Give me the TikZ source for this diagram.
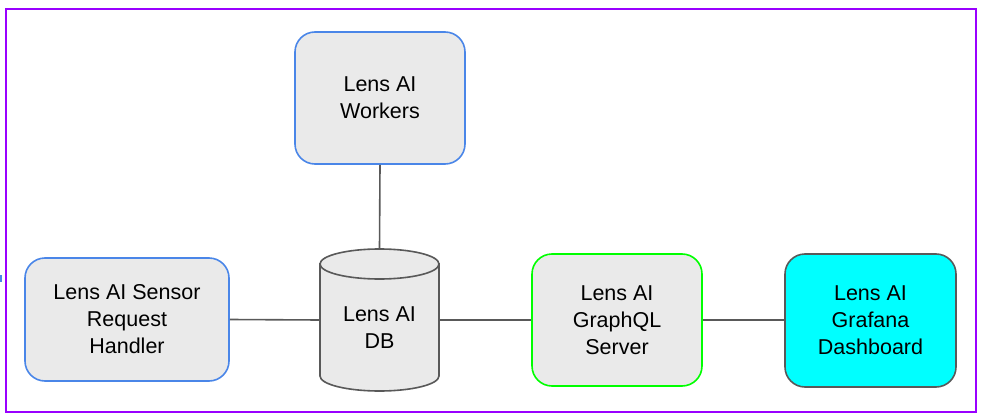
\documentclass[tikz,border=0pt]{standalone}
\usepackage{fontspec}
\setmainfont{Liberation Sans}
\definecolor{framepurple}{HTML}{9900FF}
\definecolor{gblue}{HTML}{4A86E8}
\definecolor{boxgray}{HTML}{EAEAEA}
\definecolor{edgegray}{HTML}{595959}
\definecolor{ggreen}{HTML}{00FF00}
\definecolor{gcyan}{HTML}{00FFFF}
\begin{document}
\begin{tikzpicture}[x=1pt,y=-1pt,
  box/.style={draw, line width=1.6pt, rounded corners=20pt, align=center,
    font=\fontsize{21.5}{27}\selectfont, inner sep=0pt},
  plain/.style={align=center, font=\fontsize{21.5}{27}\selectfont, inner sep=0pt},
  link/.style={draw=edgegray, line width=1.6pt},
  cyl/.style={draw=edgegray, fill=boxgray, line width=1.6pt}]
\useasboundingbox (0,0) rectangle (988,420);
\draw[framepurple, line width=2pt] (6,9) rectangle (976,412);
\fill[gblue] (0,275) rectangle (1.5,282);

% cylinder (database)
\path[cyl] (320,264) -- (320,376) arc[start angle=180, end angle=360, x radius=59.5pt, y radius=15pt] -- (439,264) -- cycle;
\draw[cyl] (379.5,264) ellipse [x radius=59.5pt, y radius=15pt];
\node[minimum width=119pt, minimum height=142pt, inner sep=0pt] (db) at (379.5,320) {};
\node[plain] (dbtext) at (379.5,328) {Lens AI\\DB};

\node[box, draw=gblue, fill=boxgray, minimum width=170pt, minimum height=132pt] (workers) at (380,98) {Lens AI\\Workers};
\node[box, draw=gblue, fill=boxgray, minimum width=204pt, minimum height=123pt] (sensor) at (127,319.5) {Lens AI Sensor\\Request\\Handler};
\node[box, draw=ggreen, fill=boxgray, minimum width=170pt, minimum height=132pt] (graphql) at (617,320) {Lens AI\\GraphQL\\Server};
\node[box, draw=edgegray, fill=gcyan, minimum width=171pt, minimum height=133pt] (grafana) at (870.5,320.5) {Lens AI\\Grafana\\Dashboard};

\draw[link] (workers.south) -- (db.north);
\draw[link] (sensor.east) -- (db.west);
\draw[link] (db.east) -- (graphql.west);
\draw[link] (graphql.east) -- (grafana.west |- graphql.east);
\end{tikzpicture}
\end{document}
